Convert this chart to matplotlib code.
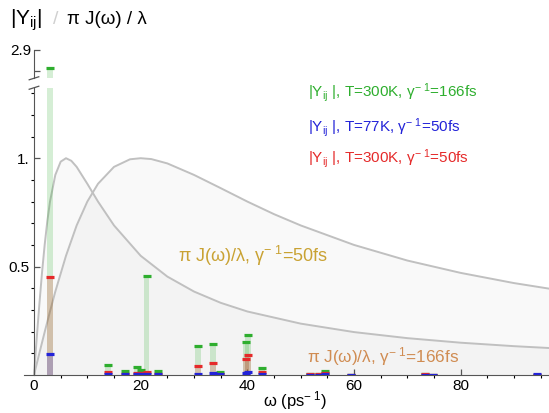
import matplotlib
matplotlib.use('Agg')
import matplotlib.pyplot as plt
import numpy as np

plt.rcParams['font.family'] = ['Liberation Sans', 'DejaVu Sans']
plt.rcParams['mathtext.fontset'] = 'custom'
plt.rcParams['mathtext.rm'] = 'Liberation Sans'
plt.rcParams['mathtext.it'] = 'Liberation Sans'
plt.rcParams['mathtext.default'] = 'regular'

# mode frequencies (ps^-1) and |Y_ij| for the three cases
omega_modes = [3.0, 13.9, 17.1, 19.3, 20.0, 21.1, 23.2, 30.8, 33.5, 34.9,
               39.7, 40.2, 42.7, 51.8, 53.5, 54.6, 59.4, 73.3, 74.9, 94.3]
y_300K_166fs = [2.815, 0.047, 0.017, 0.038, 0.022, 0.458, 0.018, 0.135, 0.145, 0.015,
                0.150, 0.184, 0.033, 0.005, 0.004, 0.018, 0.002, 0.004, 0.002, 0.002]
y_300K_50fs = [0.450, 0.012, 0.005, 0.010, 0.008, 0.013, 0.006, 0.041, 0.054, 0.006,
               0.075, 0.092, 0.016, 0.004, 0.003, 0.011, 0.002, 0.004, 0.002, 0.002]
y_77K_50fs = [0.098, 0.005, 0.003, 0.003, 0.003, 0.004, 0.003, 0.006, 0.007, 0.003,
              0.010, 0.013, 0.005, 0.002, 0.002, 0.003, 0.002, 0.002, 0.002, 0.003]

# spectral densities pi J(w)/lambda
w_50fs = [0, 1, 2, 3, 4, 6, 8, 10, 12, 15, 18, 20, 22, 25, 30, 35, 40, 45, 50,
          60, 70, 80, 90, 100]
J_50fs = [0, 0.100, 0.198, 0.293, 0.385, 0.550, 0.690, 0.800, 0.882, 0.960, 0.995,
          1.0, 0.996, 0.976, 0.923, 0.862, 0.800, 0.742, 0.690, 0.600, 0.528, 0.471,
          0.424, 0.385]
w_166fs = [0, 0.5, 1, 1.5, 2, 2.5, 3, 4, 5, 6, 7, 8, 10, 12, 15, 20, 25, 30, 35,
           40, 50, 60, 70, 80, 90, 100]
J_166fs = [0, 0.166, 0.324, 0.471, 0.600, 0.710, 0.800, 0.923, 0.984, 1.0, 0.988,
           0.960, 0.882, 0.800, 0.690, 0.550, 0.454, 0.385, 0.333, 0.293, 0.237,
           0.198, 0.170, 0.149, 0.133, 0.120]

green = '#2eae2e'
blue = '#2323d8'
red = '#e52a2a'
axis_col = '#555555'

xlim = (-1.875, 96.56)

fig = plt.figure(figsize=(5.49, 4.13), dpi=100)
ax = fig.add_axes([0.0437, 0.092, 0.9563, 0.695])
axt = fig.add_axes([0.0437, 0.811, 0.9563, 0.069])


def draw_bars(a):
    om = np.array(omega_modes)
    for vals, c in [(y_300K_166fs, green), (y_300K_50fs, red), (y_77K_50fs, blue)]:
        a.bar(om, vals, width=1.1, color=c, alpha=0.2, linewidth=0, zorder=3)
    for vals, c in [(y_300K_166fs, green), (y_300K_50fs, red), (y_77K_50fs, blue)]:
        a.hlines(vals, om - 0.75, om + 0.75, colors=c, lw=2.3, zorder=4)


# curves
ax.fill_between(w_50fs, 0, J_50fs, color='#999999', alpha=0.055, lw=0, zorder=1)
ax.fill_between(w_166fs, 0, J_166fs, color='#999999', alpha=0.055, lw=0, zorder=1)
ax.plot(w_50fs, J_50fs, color='#c0c0c0', lw=1.4, zorder=2)
ax.plot(w_166fs, J_166fs, color='#c0c0c0', lw=1.4, zorder=2)

draw_bars(ax)
draw_bars(axt)

ymax = 1.324
ax.set_xlim(*xlim)
ax.set_ylim(0, ymax)
axt.set_xlim(*xlim)
axt.set_ylim(2.768, 2.9)

for a in (ax, axt):
    a.patch.set_alpha(0)
    a.spines['top'].set_visible(False)
    a.spines['right'].set_visible(False)
    a.spines['left'].set_position(('data', 0))
    a.spines['left'].set_color(axis_col)
    a.spines['bottom'].set_color(axis_col)
    a.tick_params(colors=axis_col, labelcolor='black', labelsize=11, direction='in')
    a.tick_params(which='major', length=4, width=0.9)
    a.tick_params(which='minor', length=2.2, width=0.8)

axt.spines['bottom'].set_visible(False)
axt.set_xticks([])
axt.set_yticks([2.8, 2.9])
axt.set_yticklabels(['', '2.9'])
axt.tick_params(axis='y', pad=2)

ax.set_xticks([0, 20, 40, 60, 80])
ax.set_xticks(np.arange(5, 96, 5), minor=True)
ax.set_yticks([0.5, 1.0])
ax.set_yticklabels(['0.5', '1.'])
ax.set_yticks(np.arange(0.1, 1.31, 0.1), minor=True)
ax.tick_params(axis='y', pad=3)
ax.tick_params(axis='x', pad=3)

# axis break marks
ax.plot([-0.9, 0.9], [ymax - 0.006, ymax + 0.008], color=axis_col, lw=0.9, clip_on=False)
axt.plot([-0.9, 0.9], [2.768 - 0.008, 2.768 + 0.006], color=axis_col, lw=0.9, clip_on=False)

# titles and labels
fig.text(0.018, 0.952, r'|Y$_{ij}$|', fontsize=15, va='center', ha='left')
fig.text(0.097, 0.952, '/', fontsize=14, va='center', ha='left', color='#d0d0d0')
fig.text(0.122, 0.952, 'π J(ω) / λ', fontsize=13.5, va='center', ha='left')
fig.text(0.537, 0.030, r'ω (ps$^{-\ 1}$)', fontsize=12, ha='center', va='center')

fig.text(0.561, 0.777, r'|Y$_{ij}$ |, T=300K, γ$^{-\ 1}$=166fs', color=green, fontsize=11, va='center')
fig.text(0.561, 0.692, r'|Y$_{ij}$ |, T=77K, γ$^{-\ 1}$=50fs', color=blue, fontsize=11, va='center')
fig.text(0.561, 0.617, r'|Y$_{ij}$ |, T=300K, γ$^{-\ 1}$=50fs', color=red, fontsize=11, va='center')

ax.text(0.293, 0.415, r'π J(ω)/λ, γ$^{-\ 1}$=50fs', transform=ax.transAxes,
        color='#c9a233', fontsize=13, va='center')
ax.text(0.539, 0.066, r'π J(ω)/λ, γ$^{-\ 1}$=166fs', transform=ax.transAxes,
        color='#d08c52', fontsize=12.3, va='center')

fig.savefig('out.png', dpi=100)
